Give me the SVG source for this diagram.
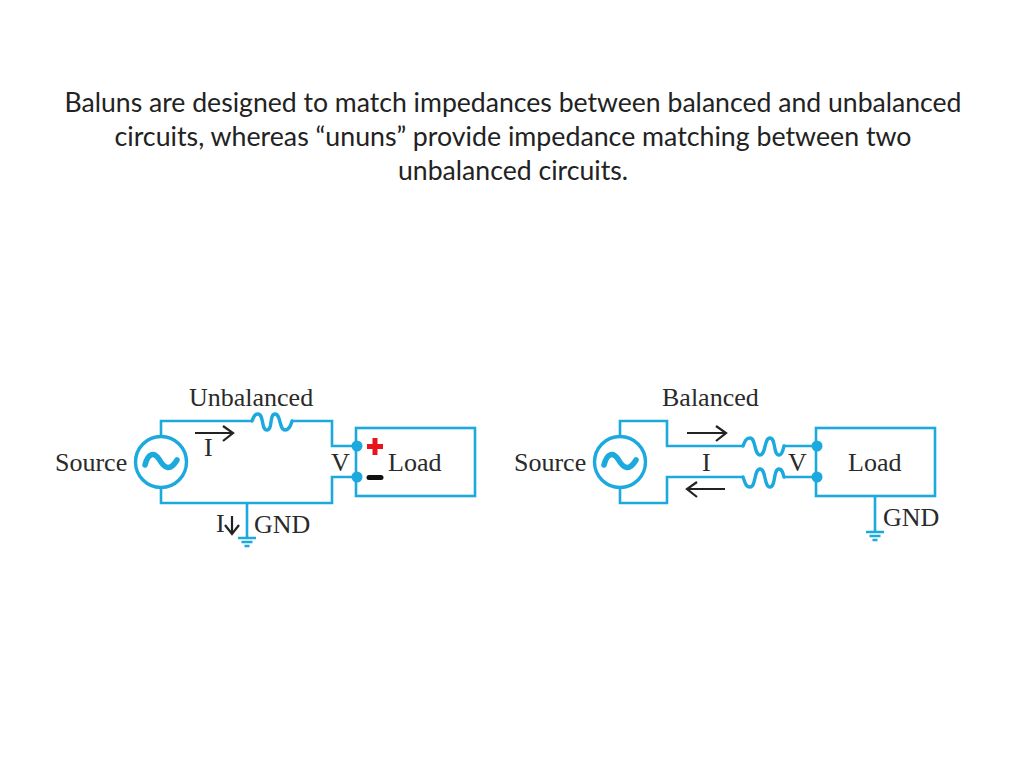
<svg xmlns="http://www.w3.org/2000/svg" width="1024" height="768" viewBox="0 0 1024 768">
<style>
.w{fill:none;stroke:#1ba9de;stroke-width:2.6;stroke-linejoin:miter}
.c{fill:none;stroke:#1ba9de;stroke-width:3.4;stroke-linecap:round}
.a{fill:none;stroke:#222;stroke-width:2.2}
.d{fill:#1ba9de}
.l{font-family:"Liberation Serif","Times New Roman",serif;font-size:26px;fill:#2a2a2a}
.t{font-family:Lato,"Open Sans",sans-serif;font-size:26px;fill:#222;text-anchor:middle}
</style>
<defs>
<path id="sine" d="M-16 3C-13 -9 -7 -10 -2 -3C3 6 9 10 16 -2" class="c" style="stroke-width:5.5"/>
<g id="gnd"><path d="M-9 0H9M-5.500 4H5.500M-2.500 8H2.500" class="w" style="stroke-width:2.400"/></g>
</defs>
<g id="title">
<text class="t" x="513" y="112" textLength="897" lengthAdjust="spacingAndGlyphs">Baluns are designed to match impedances between balanced and unbalanced</text>
<text class="t" x="513" y="146" textLength="797" lengthAdjust="spacingAndGlyphs">circuits, whereas “ununs” provide impedance matching between two</text>
<text class="t" x="513" y="180" textLength="230" lengthAdjust="spacingAndGlyphs">unbalanced circuits.</text>
</g>
<g id="connectors">
<path class="w" d="M161 436V421H252M292 421H332V446H357M357 477H332V503H161V488"/>
<path class="c" d="M252 421C254 416 255 414 258 414C264 414 261 430 267 430C273 430 269 414 275 414C281 414 279 430 285 430C289 430 291 425 292 421"/>
<path class="w" d="M247 503V537"/>
<path class="w" d="M620 436V421H667V446H743M783 446H816"/>
<path class="c" d="M743 446C745 441 746 438 750 438C756 438 754 455 760 455C766 455 764 438 770 438C776 438 773 455 779 455C782 455 783 450 784 446"/>
<path class="w" d="M620 488V503H667V477H743M784 477H816"/>
<path class="c" d="M743 477C745 483 746 487 750 487C756 487 754 469 760 469C766 469 764 487 770 487C776 487 773 469 779 469C782 469 783 473 784 477"/>
<path class="w" d="M875 496V531"/>
<use href="#gnd" x="247" y="538"/>
<use href="#gnd" x="875" y="532"/>
<path class="a" d="M195 433H232M223 426L233 433L223 441"/>
<path class="a" d="M687 433H725M716 426L726 433L716 441"/>
<path class="a" d="M725 489H688M697 482L687 489L697 497"/>
<path class="a" d="M232 516V533M225 525L232 534L239 525"/>
</g>
<g id="source-left">
<circle class="w" cx="161" cy="462" r="25.500" style="stroke-width:3.400"/>
<use href="#sine" x="161" y="462"/>
<text class="l" x="55" y="471">Source</text>
</g>
<g id="load-left">
<rect class="w" x="356" y="428" width="119" height="68"/>
<circle class="d" cx="357" cy="446" r="5.500"/>
<circle class="d" cx="357" cy="477" r="5.500"/>
<text class="l" x="388" y="471">Load</text>
<path d="M367 446.500H383M375 438V455" stroke="#e8141c" stroke-width="5" fill="none"/>
<path d="M369 477.500H381" stroke="#111" stroke-width="5" fill="none" stroke-linecap="round"/>
</g>
<g id="labels-left">
<text class="l" x="189" y="406">Unbalanced</text>
<text class="l" x="204" y="456">I</text>
<text class="l" x="331" y="471">V</text>
<text class="l" x="216" y="532">I</text>
<text class="l" x="254" y="533">GND</text>
</g>
<g id="source-right">
<circle class="w" cx="620" cy="462" r="25.500" style="stroke-width:3.400"/>
<use href="#sine" x="620" y="462"/>
<text class="l" x="514" y="471">Source</text>
</g>
<g id="load-right">
<rect class="w" x="816" y="428" width="119" height="68"/>
<circle class="d" cx="817" cy="446" r="5.500"/>
<circle class="d" cx="817" cy="477" r="5.500"/>
<text class="l" x="848" y="471">Load</text>
</g>
<g id="labels-right">
<text class="l" x="662" y="406">Balanced</text>
<text class="l" x="702" y="471">I</text>
<text class="l" x="788" y="471">V</text>
<text class="l" x="883" y="526">GND</text>
</g>
</svg>
